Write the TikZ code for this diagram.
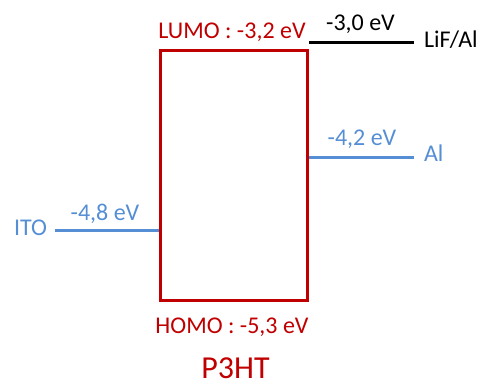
\documentclass[tikz,border=0pt]{standalone}
\usepackage{fontspec}
\setmainfont{Carlito}
\definecolor{homored}{HTML}{C00000}
\definecolor{levelblue}{HTML}{558ED5}
\begin{document}
\begin{tikzpicture}[x=1pt,y=-1pt,line join=miter,font=\fontsize{24}{28}\selectfont]
	\tikzset{every node/.style={inner sep=0pt,outer sep=0pt}}
	\tikzset{level/.style={line width=3pt}}
	\useasboundingbox (0,0) rectangle (485,383);
	% P3HT band
	\node[draw=homored,line width=3pt,minimum width=147pt,minimum height=250pt] (band) at (233.5,175) {};
	\node[homored,anchor=base] (lumo) at (232,38.5) {LUMO : -3,2 eV};
	\node[homored,anchor=base] (homo) at (232,333) {HOMO : -5,3 eV};
	\node[homored,anchor=base,font=\fontsize{32}{36}\selectfont] (p3ht) at (235.5,378.3) {P3HT};
	% electrode levels
	\foreach \x/\y/\n in {309/42/lifA,414/42/lifB,308.5/157/alA,414/157/alB,55/230.5/itoA,158.5/230.5/itoB} \coordinate (\n) at (\x,\y);
	\draw[level] (lifA)--(lifB);
	\draw[level,levelblue] (alA)--(alB);
	\draw[level,levelblue] (itoA)--(itoB);
	\node[anchor=base] (lifE) at (360.5,30.5) {-3,0 eV};
	\node[anchor=base west] (lif) at (424,47.5) {LiF/Al};
	\node[levelblue,anchor=base] (alE) at (362,145.5) {-4,2 eV};
	\node[levelblue,anchor=base west] (al) at (424,161.5) {Al};
	\node[levelblue,anchor=base] (itoE) at (105,220.5) {-4,8 eV};
	\node[levelblue,anchor=base east] (ito) at (47,235) {ITO};
\end{tikzpicture}
\end{document}
